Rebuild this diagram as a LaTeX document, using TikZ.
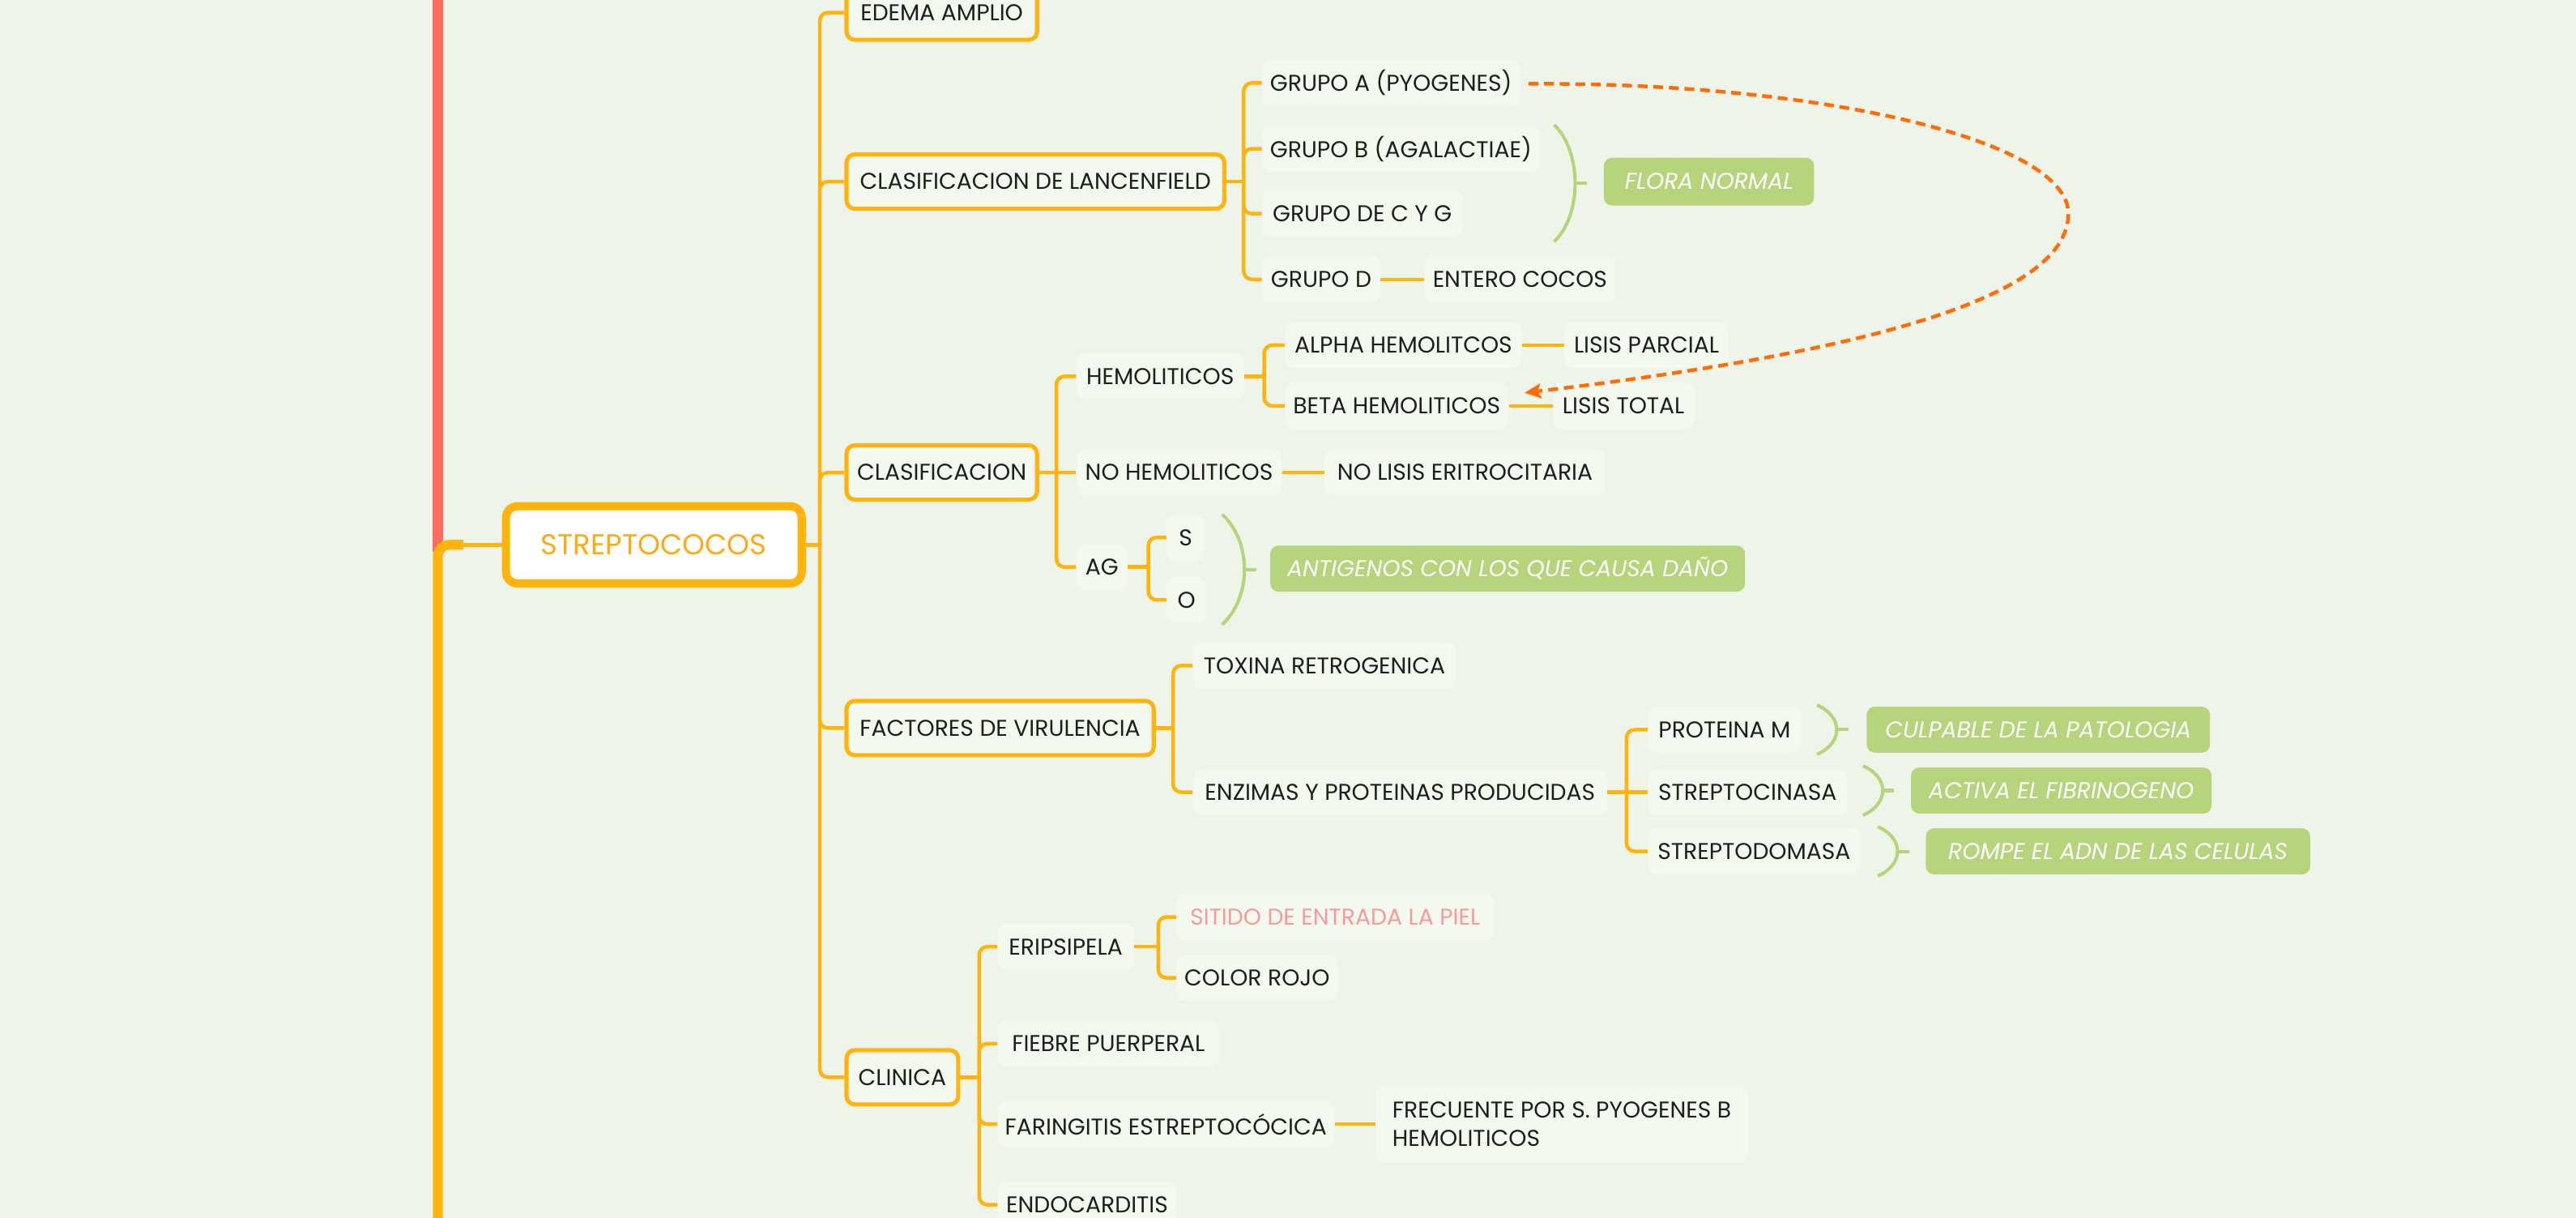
\documentclass[tikz,border=0pt]{standalone}
\usepackage{fontspec}
\setmainfont{Poppins}
\usetikzlibrary{arrows.meta}
\definecolor{bg}{HTML}{EEF5E8}
\definecolor{nfill}{HTML}{F4F9EF}
\definecolor{org}{HTML}{FFB30F}
\definecolor{redl}{HTML}{FF6B5E}
\definecolor{grn}{HTML}{B6D47B}
\definecolor{dashc}{HTML}{FF6D0A}
\definecolor{pinkt}{HTML}{F79A9A}
\definecolor{txt}{HTML}{1E1E1E}
\definecolor{roottxt}{HTML}{FFAA15}
\begin{document}
\begin{tikzpicture}[x=1pt,y=-1pt,
  base/.style={anchor=west, inner sep=0pt, rounded corners=5pt, font=\fontsize{13.9}{17.5}\selectfont, text=txt},
  lvone/.style={base, draw=org, line width=2.5pt, fill=nfill, minimum height=33pt},
  lvtwo/.style={base, fill=nfill, minimum height=28pt},
  gbox/.style={base, fill=grn, text=white, minimum height=28pt, font=\fontsize{13.9}{17.5}\selectfont\itshape},
  br/.style={draw=org, line width=2.2pt, rounded corners=5pt},
  gbr/.style={draw=grn, line width=2pt},
]
\clip (0,0) rectangle (1568,741);
\fill[bg] (0,0) rectangle (1568,741);

% root
\node[base, draw=org, line width=5pt, fill=white, text=roottxt, rounded corners=7pt,
      minimum width=180pt, minimum height=47pt, font=\fontsize{17.5}{20}\selectfont] (root) at (305.5,331.5) {STREPTOCOCOS};

% level 1
\node[lvone, minimum width=116pt] (edema) at (514,7.7) {EDEMA AMPLIO};
\node[lvone, minimum width=230pt] (lanc) at (514,110.5) {CLASIFICACION DE LANCENFIELD};
\node[lvone, minimum width=116pt] (clasif) at (514,287.5) {CLASIFICACION};
\node[lvone, minimum width=187pt] (factores) at (514,443) {FACTORES DE VIRULENCIA};
\node[lvone, minimum width=68pt] (clinica) at (514,655.5) {CLINICA};

% Lancefield
\node[lvtwo, minimum width=157pt] (grpA) at (768,50.5) {GRUPO A (PYOGENES)};
\node[lvtwo, minimum width=169pt] (grpB) at (768,90.5) {GRUPO B (AGALACTIAE)};
\node[lvtwo, minimum width=122pt] (grpC) at (768,130) {GRUPO DE C Y G};
\node[lvtwo, minimum width=72pt] (grpD) at (768,170) {GRUPO D};
\node[lvtwo, minimum width=116pt] (entero) at (867,170) {ENTERO COCOS};
\node[gbox, minimum width=128pt, minimum height=29pt] (flora) at (976,110.5) {FLORA NORMAL};

% Clasificacion
\node[lvtwo, minimum width=102pt] (hemo) at (655,229) {HEMOLITICOS};
\node[lvtwo, minimum width=125pt] (nohemo) at (655,287.5) {NO HEMOLITICOS};
\node[lvtwo, minimum width=31pt] (ag) at (655,345) {AG};
\node[lvtwo, minimum width=144pt] (alpha) at (782,210) {ALPHA HEMOLITCOS};
\node[lvtwo, minimum width=100pt] (lparc) at (952,210) {LISIS PARCIAL};
\node[lvtwo, minimum width=136pt] (beta) at (782,247) {BETA HEMOLITICOS};
\node[lvtwo, minimum width=86pt] (ltotal) at (945,247) {LISIS TOTAL};
\node[lvtwo, minimum width=171pt] (nolisis) at (806,287.5) {NO LISIS ERITROCITARIA};
\node[lvtwo, minimum width=23pt] (s) at (710,327) {S};
\node[lvtwo, minimum width=24pt] (o) at (710,365) {O};
\node[gbox, minimum width=289pt] (antig) at (773,346) {ANTIGENOS CON LOS QUE CAUSA DAÑO};

% Factores
\node[lvtwo, minimum width=160pt] (toxina) at (726,405) {TOXINA RETROGENICA};
\node[lvtwo, minimum width=252pt] (enzimas) at (726,482) {ENZIMAS Y PROTEINAS PRODUCIDAS};
\node[lvtwo, minimum width=93pt] (protm) at (1003,444) {PROTEINA M};
\node[lvtwo, minimum width=121pt] (strepc) at (1003,482) {STREPTOCINASA};
\node[lvtwo, minimum width=129pt] (strepd) at (1003,518) {STREPTODOMASA};
\node[gbox, minimum width=209pt] (culp) at (1136,444) {CULPABLE DE LA PATOLOGIA};
\node[gbox, minimum width=183pt] (activa) at (1163,481) {ACTIVA EL FIBRINOGENO};
\node[gbox, minimum width=234pt] (rompe) at (1172,518) {ROMPE EL ADN DE LAS CELULAS};

% Clinica
\node[lvtwo, minimum width=83pt] (erip) at (607,576) {ERIPSIPELA};
\node[lvtwo, minimum width=193pt, text=pinkt] (sitido) at (716,558) {SITIDO DE ENTRADA LA PIEL};
\node[lvtwo, minimum width=98pt] (rojo) at (716,595) {COLOR ROJO};
\node[lvtwo, minimum width=135pt] (fiebre) at (607,635) {FIEBRE PUERPERAL};
\node[lvtwo, minimum width=205pt] (faring) at (607,684) {FARINGITIS ESTREPTOCÓCICA};
\node[lvtwo, minimum width=227pt, minimum height=46pt, align=left] (frec) at (837,684) {FRECUENTE POR S. PYOGENES B\\HEMOLITICOS};
\node[lvtwo, minimum width=109pt] (endo) at (607,733) {ENDOCARDITIS};

% left trunk lines
\coordinate (redTop) at (266.5,-5);
\coordinate (redBot) at (266.5,336);
\coordinate (orgBot) at (266.5,750);
\coordinate (orgTurn) at (282,331.5);
\draw[redl, line width=6pt] (redTop) -- (redBot);
\draw[org, line width=6pt, rounded corners=7pt] (orgBot) |- (orgTurn);
\draw[org, line width=2.5pt] (orgTurn) -- (root.west);

% junctions
\coordinate (rootJ) at (499,331.5);
\coordinate (lancJ) at (757,110.5);
\coordinate (clasJ) at (643,287.5);
\coordinate (hemoJ) at (769.5,229);
\coordinate (agJ) at (699,345);
\coordinate (factJ) at (714,443);
\coordinate (enzJ) at (990,482);
\coordinate (clinJ) at (596,655.5);
\coordinate (eripJ) at (705,576);

\draw[br] (root.east) -- (rootJ);
\foreach \c in {edema,lanc,clasif,factores,clinica} \draw[br] (rootJ) |- (\c.west);
\draw[br] (lanc.east) -- (lancJ);
\foreach \c in {grpA,grpB,grpC,grpD} \draw[br] (lancJ) |- (\c.west);
\draw[br] (grpD.east) -- (entero.west);
\draw[br] (clasif.east) -- (nohemo.west);
\foreach \c in {hemo,ag} \draw[br] (clasJ) |- (\c.west);
\draw[br] (hemo.east) -- (hemoJ);
\foreach \c in {alpha,beta} \draw[br] (hemoJ) |- (\c.west);
\draw[br] (alpha.east) -- (lparc.west);
\draw[br] (beta.east) -- (ltotal.west);
\draw[br] (nohemo.east) -- (nolisis.west);
\draw[br] (ag.east) -- (agJ);
\foreach \c in {s,o} \draw[br] (agJ) |- (\c.west);
\draw[br] (factores.east) -- (factJ);
\foreach \c in {toxina,enzimas} \draw[br] (factJ) |- (\c.west);
\draw[br] (enzimas.east) -- (strepc.west);
\foreach \c in {protm,strepd} \draw[br] (enzJ) |- (\c.west);
\draw[br] (clinica.east) -- (clinJ);
\foreach \c in {erip,fiebre,faring,endo} \draw[br] (clinJ) |- (\c.west);
\draw[br] (erip.east) -- (eripJ);
\foreach \c in {sitido,rojo} \draw[br] (eripJ) |- (\c.west);
\draw[br] (faring.east) -- (frec.west);

% green summary brackets
\draw[gbr] (946,76) .. controls (963,92) and (963,131) .. (946,147);
\draw[gbr] (959,111.5) -- (966,111.5);
\draw[gbr] (744,313) .. controls (762,330) and (762,363) .. (744,380);
\draw[gbr] (757.5,346.5) -- (765,346.5);
\draw[gbr] (1106,429) .. controls (1122,436) and (1122,452) .. (1106,459);
\draw[gbr] (1118,444) -- (1125,444);
\draw[gbr] (1134,466) .. controls (1150,473) and (1150,489) .. (1134,496);
\draw[gbr] (1146,481) -- (1153,481);
\draw[gbr] (1143,503) .. controls (1159,510) and (1159,526) .. (1143,533);
\draw[gbr] (1155,518) -- (1162,518);

% dashed relation
\coordinate (arcR) at (1259,130);
\coordinate (arrEnd) at (928,239);
\draw[dashc, line width=2.2pt, dash pattern=on 6pt off 3.5pt, -{Stealth[length=10pt,width=9pt,inset=2pt]}]
  ([xshift=5pt,yshift=-0.5pt]grpA.east) .. controls (1111,50) and (1259,86) .. (arcR)
  .. controls (1259,180) and (1140,214) .. (arrEnd);
\end{tikzpicture}
\end{document}
